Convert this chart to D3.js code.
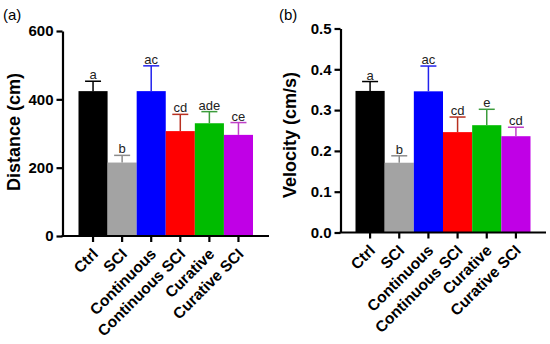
<!doctype html>
<html>
<head>
	<script src="https://d3js.org/d3.v7.min.js"></script>
	<style>
		body { margin: 0; background: #fff; }
		svg { font-family: "Liberation Sans", Arial, sans-serif; }
	</style>
</head>
<body>
	<svg id="chart" width="550" height="344"></svg>
	<script>
		var groups = ["Ctrl", "SCI", "Continuous", "Continuous SCI", "Curative", "Curative SCI"];
		var barColors = ["#000000", "#a3a3a3", "#0000ff", "#ff0000", "#00bb00", "#c000e6"];
		var errColors = ["#000000", "#8c8c8c", "#2222ee", "#b83020", "#3c9c3c", "#c040c8"];

		// (a) distance
		var distMean = [424, 215, 424, 307, 330, 296];
		var distSd = [29, 21, 74, 49, 34, 36];
		var distLetters = ["a", "b", "ac", "cd", "ade", "ce"];
		var distTicks = [0, 200, 400, 600];

		// (b) velocity
		var velMean = [0.347, 0.171, 0.346, 0.246, 0.263, 0.236];
		var velSd = [0.023, 0.017, 0.062, 0.037, 0.039, 0.022];
		var velLetters = ["a", "b", "ac", "cd", "e", "cd"];
		var velTicks = [0, 0.1, 0.2, 0.3, 0.4, 0.5];

		var svg = d3.select("#chart");

		drawPanel({
			tag: "(a)", tagX: 3, tagY: 20,
			axisX: 62.5, axisY: 236, top: 31, right: 269,
			barLeft: 78.5, barRight: 253,
			yMax: 600, ticks: distTicks, fmt: d3.format("d"),
			label: "Distance (cm)", labelX: 20, labelY: 132,
			mean: distMean, sd: distSd, letters: distLetters
		});

		drawPanel({
			tag: "(b)", tagX: 279, tagY: 20,
			axisX: 340.5, axisY: 232.5, top: 28.5, right: 546,
			barLeft: 355.5, barRight: 530.5,
			yMax: 0.5, ticks: velTicks, fmt: d3.format(".1f"),
			label: "Velocity (cm/s)", labelX: 296, labelY: 135,
			mean: velMean, sd: velSd, letters: velLetters
		});

		function drawPanel(p) {
			var g = svg.append("g");

			var x = d3.scaleBand()
				.domain(groups)
				.range([p.barLeft, p.barRight])
				.padding(0);

			var y = d3.scaleLinear()
				.domain([0, p.yMax])
				.range([p.axisY, p.top]);

			// bars
			g.selectAll("rect.bar")
				.data(groups)
				.enter()
				.append("rect")
					.attr("class", "bar")
					.attr("x", d => x(d))
					.attr("width", x.bandwidth())
					.attr("y", (d, i) => y(p.mean[i]))
					.attr("height", (d, i) => p.axisY - y(p.mean[i]))
					.attr("fill", (d, i) => barColors[i]);

			// error bars (upper half only)
			var err = g.selectAll("g.err")
				.data(groups)
				.enter()
				.append("g")
					.attr("class", "err")
					.attr("stroke", (d, i) => errColors[i])
					.attr("stroke-width", 1.5);

			err.append("line")
				.attr("x1", d => x(d) + x.bandwidth() / 2)
				.attr("x2", d => x(d) + x.bandwidth() / 2)
				.attr("y1", (d, i) => y(p.mean[i]))
				.attr("y2", (d, i) => y(p.mean[i] + p.sd[i]));

			err.append("line")
				.attr("x1", d => x(d) + x.bandwidth() / 2 - 8)
				.attr("x2", d => x(d) + x.bandwidth() / 2 + 8)
				.attr("y1", (d, i) => y(p.mean[i] + p.sd[i]))
				.attr("y2", (d, i) => y(p.mean[i] + p.sd[i]));

			// significance letters
			g.selectAll("text.sig")
				.data(groups)
				.enter()
				.append("text")
					.attr("class", "sig")
					.attr("x", d => x(d) + x.bandwidth() / 2)
					.attr("y", (d, i) => y(p.mean[i] + p.sd[i]) - 2)
					.attr("text-anchor", "middle")
					.attr("font-size", "13px")
					.attr("fill", "#222")
					.text((d, i) => p.letters[i]);

			// y axis
			var yAxis = d3.axisLeft(y)
				.tickValues(p.ticks)
				.tickFormat(p.fmt)
				.tickSize(6)
				.tickSizeOuter(0)
				.tickPadding(3);

			var yG = g.append("g")
				.attr("transform", "translate(" + p.axisX + ",0)")
				.call(yAxis);
			yG.select(".domain").attr("stroke-width", 2.2);
			yG.selectAll(".tick line").attr("stroke-width", 2.2);
			yG.selectAll(".tick text")
				.attr("font-family", null)
				.attr("font-size", "15px")
				.attr("font-weight", "bold")
				.attr("fill", "#000");

			// x axis: line drawn across full width, ticks at band centres
			var xAxis = d3.axisBottom(x)
				.tickSize(6)
				.tickSizeOuter(0)
				.tickFormat("");

			var xG = g.append("g")
				.attr("transform", "translate(0," + p.axisY + ")")
				.call(xAxis);
			xG.select(".domain").remove();
			xG.selectAll(".tick line").attr("stroke-width", 2.2);
			g.append("line")
				.attr("x1", p.axisX - 1)
				.attr("x2", p.right)
				.attr("y1", p.axisY)
				.attr("y2", p.axisY)
				.attr("stroke", "#000")
				.attr("stroke-width", 2.2);

			// rotated category labels
			g.selectAll("text.cat")
				.data(groups)
				.enter()
				.append("text")
					.attr("class", "cat")
					.attr("transform", d => "translate(" + (x(d) + x.bandwidth() / 2 + 6) + "," + (p.axisY + 19) + ") rotate(-45)")
					.attr("text-anchor", "end")
					.attr("font-size", "15.5px")
					.attr("font-weight", "bold")
					.text(d => d);

			// y title
			g.append("text")
				.attr("transform", "translate(" + p.labelX + "," + p.labelY + ") rotate(-90)")
				.attr("text-anchor", "middle")
				.attr("font-size", "18px")
				.attr("font-weight", "bold")
				.text(p.label);

			// panel tag
			g.append("text")
				.attr("x", p.tagX)
				.attr("y", p.tagY)
				.attr("font-size", "15px")
				.text(p.tag);
		}
	</script>
</body>
</html>
